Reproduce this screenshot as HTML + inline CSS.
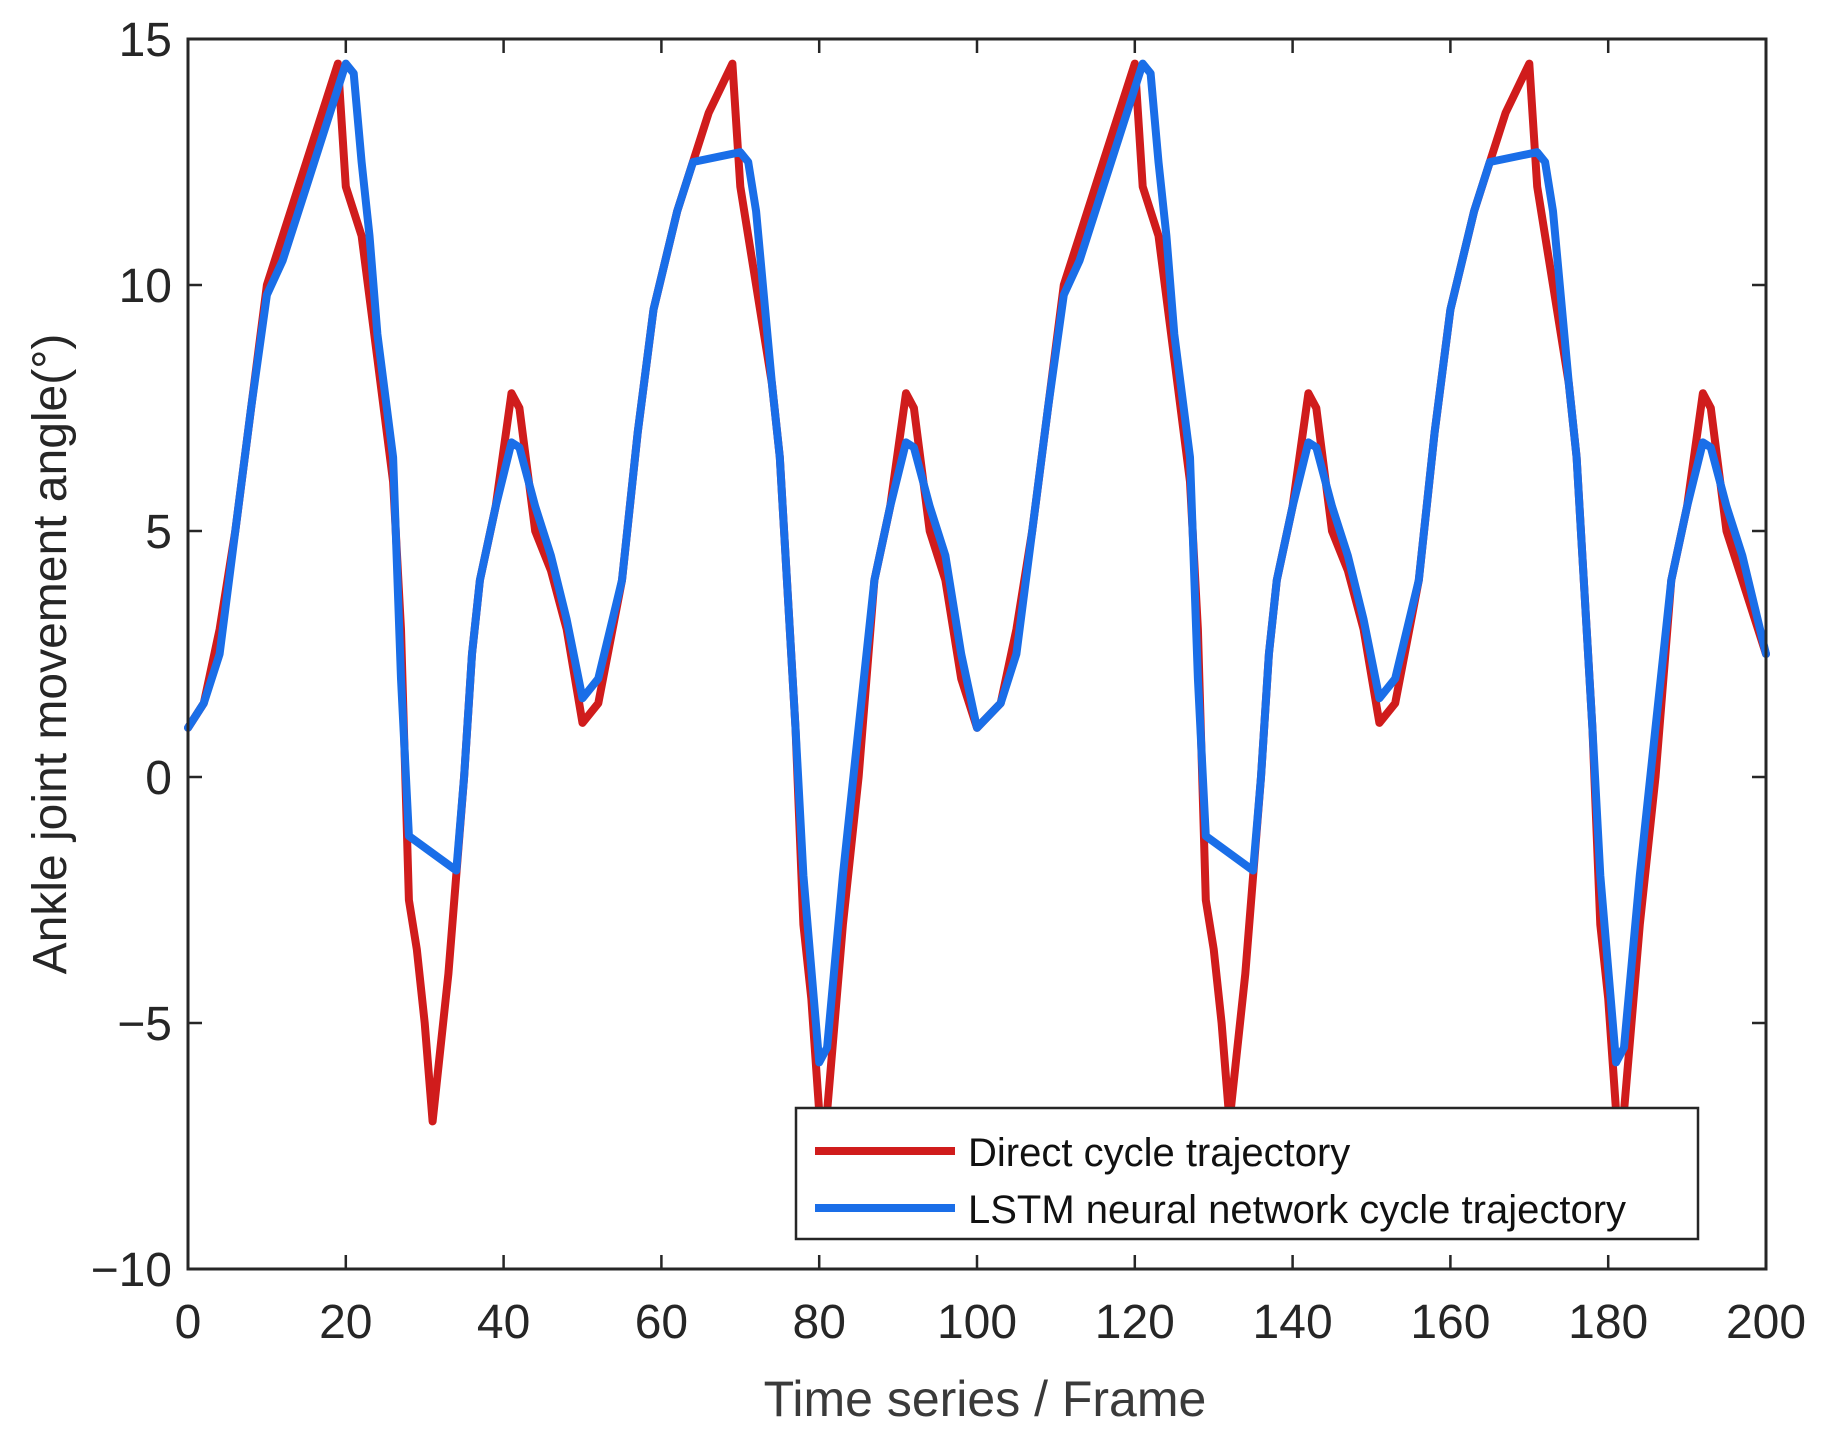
<!DOCTYPE html>
<html><head><meta charset="utf-8"><style>
html,body{margin:0;padding:0;background:#fff;}
svg{display:block;font-family:"Liberation Sans",Arial,sans-serif;}
</style></head><body>
<svg id="s" width="1829" height="1438" viewBox="0 0 1829 1438" xmlns="http://www.w3.org/2000/svg">
<rect width="1829" height="1438" fill="#fff"/>
<g id="ticks" stroke="#262626" stroke-width="2.5"></g>
<g id="labels" font-size="48" fill="#262626"></g>
<polyline id="red" fill="none" stroke="#d01c1c" stroke-width="8" stroke-linejoin="round" stroke-linecap="round"/>
<polyline id="blue" fill="none" stroke="#1a6ee8" stroke-width="8" stroke-linejoin="round" stroke-linecap="round"/>
<rect x="188" y="39" width="1578" height="1230" fill="none" stroke="#262626" stroke-width="3"/>
<rect x="796" y="1108" width="902" height="131" fill="#fff" stroke="#262626" stroke-width="2.5"/>
<line x1="815" y1="1151" x2="955" y2="1151" stroke="#d01c1c" stroke-width="8"/>
<line x1="815" y1="1208" x2="955" y2="1208" stroke="#1a6ee8" stroke-width="8"/>
<text x="968" y="1166" font-size="40" fill="#111">Direct cycle trajectory</text>
<text x="968" y="1223" font-size="40" fill="#111">LSTM neural network cycle trajectory</text>
<text x="985" y="1416" font-size="50" fill="#3a3a3a" text-anchor="middle">Time series / Frame</text>
<text transform="translate(66,654) rotate(-90)" font-size="48" fill="#262626" text-anchor="middle">Ankle joint movement angle(°)</text>
</svg>
<script>
var X=function(f){return 188+f*7.89},Y=function(v){return 39+(15-v)*49.2};
var ns="http://www.w3.org/2000/svg";
var tk=document.getElementById('ticks'),lb=document.getElementById('labels');
function el(p,t,a,txt){var e=document.createElementNS(ns,t);for(var k in a)e.setAttribute(k,a[k]);if(txt!=null)e.textContent=txt;p.appendChild(e);}
for(var f=0;f<=200;f+=20){var x=X(f);el(tk,'line',{x1:x,y1:1269,x2:x,y2:1255});el(tk,'line',{x1:x,y1:39,x2:x,y2:53});
el(lb,'text',{x:x,y:1338,'text-anchor':'middle'},String(f));}
[15,10,5,0,-5,-10].forEach(function(v){var y=Y(v);el(tk,'line',{x1:188,y1:y,x2:202,y2:y});el(tk,'line',{x1:1766,y1:y,x2:1752,y2:y});
el(lb,'text',{x:172,y:y+17,'text-anchor':'end'},v<0?('\u2212'+(-v)):String(v));});
var R=[[0,1],[2,1.5],[4,3],[6,5],[8,7.5],[10,10],[12,11],[15,12.5],[19,14.5],[20,12],[22,11],[24,8.5],[26,6],[27,3],[28,-2.5],[29,-3.5],[30,-5],[31,-7],[33,-4],[35,0],[36,2.5],[37,4],[39,5.5],[41,7.8],[42,7.5],[44,5],[46,4.2],[48,3],[50,1.1],[52,1.5],[55,4],[57,7],[59,9.5],[62,11.5],[66,13.5],[69,14.5],[70,12],[72,10],[74,8],[75,6.5],[77,1],[78,-3],[79,-4.5],[80,-6.8],[81,-6.8],[83,-3],[85,0],[87,4],[89,5.5],[91,7.8],[92,7.5],[94,5],[96,4],[98,2],[100,1]];
var B=[[0,1],[2,1.5],[4,2.5],[6,5],[8,7.5],[10,9.8],[12,10.5],[15,12],[18,13.5],[20,14.5],[21,14.3],[22,12.5],[23,11],[24,9],[26,6.5],[27,2],[28,-1.2],[34,-1.9],[35,0],[36,2.5],[37,4],[39,5.5],[41,6.8],[42,6.7],[44,5.5],[46,4.5],[48,3.2],[50,1.6],[52,2],[55,4],[57,7],[59,9.5],[62,11.5],[64,12.5],[70,12.7],[71,12.5],[72,11.5],[74,8],[75,6.5],[77,1],[78,-2],[80,-5.8],[81,-5.5],[83,-2],[85,1],[87,4],[89,5.5],[91,6.8],[92,6.7],[94,5.5],[96,4.5],[98,2.5],[100,1]];
function build(d){var pts=[];d.forEach(function(p){pts.push(p)});d.forEach(function(p){var f=p[0]+101;if(p[0]>0&&f<=198)pts.push([f,p[1]])});
pts.push([200,2.5]);
return pts.map(function(p){return X(p[0]).toFixed(1)+','+Y(p[1]).toFixed(1)}).join(' ');}
document.getElementById('red').setAttribute('points',build(R));
document.getElementById('blue').setAttribute('points',build(B));
</script>
</body></html>
